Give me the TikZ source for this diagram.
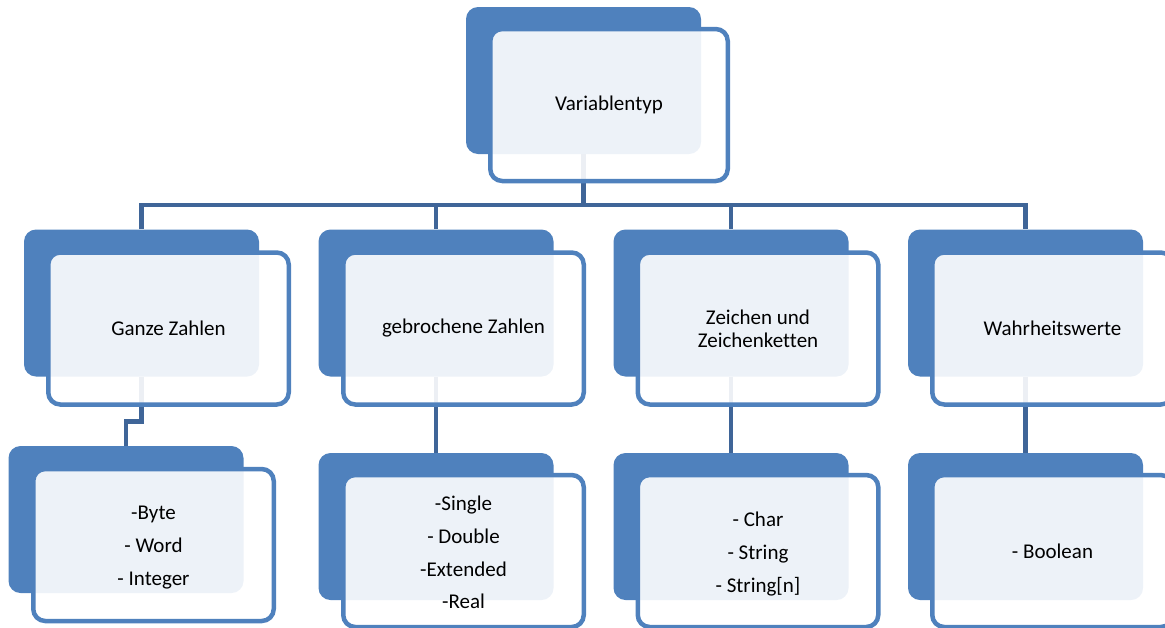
\documentclass[tikz,border=0pt]{standalone}
\usepackage{fontspec}
\setmainfont[Ligatures=NoCommon]{Carlito}
\begin{document}
\begin{tikzpicture}[x=1pt,y=-1pt,
  backbox/.style={rectangle, rounded corners=12pt, fill=accent, draw=none,
    minimum width=235pt, minimum height=147pt, inner sep=0pt},
  frontbox/.style={rectangle, rounded corners=12pt, draw=accent, line width=4.5pt,
    fill=white, fill opacity=0.9, text opacity=1,
    minimum width=240.5pt, minimum height=152pt, inner sep=0pt, align=center,
    font=\fontsize{21}{32.5}\selectfont},
  listtext/.style={align=center, text opacity=1, fill opacity=0, inner sep=0pt,
    font=\fontsize{21}{32.6}\selectfont},
  conn/.style={draw=connc, line width=4.5pt}]
\definecolor{accent}{RGB}{79,129,189}
\definecolor{connc}{RGB}{63,101,152}
\useasboundingbox (0,0) rectangle (1165,627);
\clip (0,0) rectangle (1165,627);
% back boxes
\node[backbox] (top) at (583.5,80.5) {};
\node[backbox] (g) at (141.5,303) {};
\node[backbox] (b) at (436,303) {};
\node[backbox] (z) at (731,303) {};
\node[backbox] (w) at (1025.5,303) {};
\node[backbox] (gl) at (126,519.5) {};
\node[backbox] (bl) at (436,526.5) {};
\node[backbox] (zl) at (731,526.5) {};
\node[backbox] (wl) at (1025.5,526.5) {};
% connectors
\coordinate (bus) at (583.5,205);
\coordinate (gel) at (0,421.5);
\draw[conn] (top.south) -- (top.south |- bus);
\draw[conn] (top.south |- bus) -| (g.north);
\draw[conn] (top.south |- bus) -| (b.north);
\draw[conn] (top.south |- bus) -| (z.north);
\draw[conn] (top.south |- bus) -| (w.north);
\draw[conn] (g.south) -- (g.south |- gel) -| (gl.north);
\draw[conn] (b.south) -- (bl.north);
\draw[conn] (z.south) -- (zl.north);
\draw[conn] (w.south) -- (wl.north);
% front boxes
\node[frontbox, minimum width=237.5pt] (topf) at (609,105) {Variablentyp};
\node[frontbox] (gf) at (168.5,328.5) {Ganze Zahlen};
\node[frontbox] (bf) at (463.5,328.5) {gebrochene Zahlen};
\node[frontbox, font=\fontsize{21}{23}\selectfont] (zf) at (758,328.5) {Zeichen und\\Zeichenketten};
\node[frontbox] (wf) at (1052.5,328.5) {Wahrheitswerte};
\node[frontbox, label={[listtext, yshift=-2.5pt]center:-Byte\\- Word\\- Integer}] (glf) at (153.5,545) {};
\node[frontbox, label={[listtext, yshift=-1.5pt]center:-Single\\- Double\\-Extended\\-Real}] (blf) at (463.5,551) {};
\node[frontbox, label={[listtext, yshift=-3pt]center:- Char\\- String\\- String[n]}] (zlf) at (758,551) {};
\node[frontbox] (wlf) at (1052.5,551) {- Boolean};
\end{tikzpicture}
\end{document}
